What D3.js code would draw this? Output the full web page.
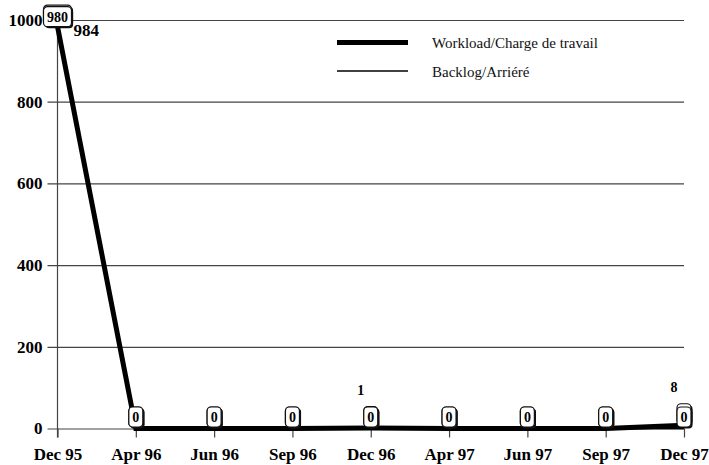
<!DOCTYPE html>
<html>
<head>
<meta charset="utf-8">
<script src="https://cdn.jsdelivr.net/npm/d3@7"></script>
<style>
  html, body { margin: 0; padding: 0; background: #fff; }
  svg { display: block; }
</style>
</head>
<body>
<svg id="chart" width="709" height="465"></svg>
<script>
// Quarterly reporting periods
const periods = ["Dec 95", "Apr 96", "Jun 96", "Sep 96", "Dec 96", "Apr 97", "Jun 97", "Sep 97", "Dec 97"];
// Workload / Charge de travail
const workload = [984, 0, 0, 0, 1, 0, 0, 0, 8];
// Backlog / Arriéré
const backlog = [980, 0, 0, 0, 0, 0, 0, 0, 0];
// Value axis ticks
const yTicks = [0, 200, 400, 600, 800, 1000];
const legendLabels = ["Workload/Charge de travail", "Backlog/Arriéré"];

const FONT = '"Liberation Serif"';
const svg = d3.select("#chart");
const plotL = 57.5, plotR = 684, plotT = 20, plotB = 428.5;

const x = d3.scalePoint().domain(periods).range([plotL, plotR]);
const y = d3.scaleLinear().domain([0, 1000]).range([plotB, plotT]);

function boldText(sel, size) {
  return sel.style("font-family", FONT).style("font-weight", "bold")
    .style("font-size", size + "px").style("fill", "#000");
}

// Horizontal gridlines with outward ticks
const yAxis = svg.append("g")
  .attr("transform", `translate(${plotL},0)`)
  .call(d3.axisLeft(y).tickValues(yTicks).tickSize(-(plotR - plotL)).tickSizeOuter(0).tickFormat(d3.format("d")));
yAxis.attr("font-family", null).attr("font-size", null);
yAxis.select(".domain").remove();
yAxis.selectAll(".tick line").attr("stroke", "#444").attr("stroke-width", 1.2).attr("x1", -10);
boldText(yAxis.selectAll(".tick text"), 17).attr("x", -15);

// Vertical value axis line
svg.append("line")
  .attr("x1", plotL).attr("x2", plotL).attr("y1", plotT).attr("y2", plotB + 9)
  .attr("stroke", "#444").attr("stroke-width", 1.2);

// Category axis
const xAxis = svg.append("g")
  .attr("transform", `translate(0,${plotB})`)
  .call(d3.axisBottom(x).tickSize(9).tickSizeOuter(0).tickPadding(10));
xAxis.attr("font-family", null).attr("font-size", null);
xAxis.select(".domain").remove();
xAxis.selectAll(".tick line").attr("stroke", "#444").attr("stroke-width", 1.2);
boldText(xAxis.selectAll(".tick text"), 17);

const line = d3.line().x((d, i) => x(periods[i])).y(d => y(d));

// Backlog series (thin) and workload series (thick)
svg.append("path").datum(backlog).attr("d", line)
  .attr("fill", "none").attr("stroke", "#000").attr("stroke-width", 1.6);
svg.append("path").datum(workload).attr("d", line)
  .attr("fill", "none").attr("stroke", "#000").attr("stroke-width", 5);

// Rounded callout box sitting on top of a data point
function callout(g, cx, cy, label, w) {
  const h = 20, bx = cx - w / 2, by = cy - h - 1.5;
  g.append("rect").attr("x", bx + 1.6).attr("y", by + 1.6).attr("width", w).attr("height", h)
    .attr("rx", 4).attr("fill", "#111");
  g.append("rect").attr("x", bx).attr("y", by).attr("width", w).attr("height", h)
    .attr("rx", 4).attr("fill", "#fff").attr("stroke", "#111").attr("stroke-width", 1.2);
  if (label !== null) {
    boldText(g.append("text"), 14).attr("x", cx).attr("y", by + h / 2 + 5)
      .attr("text-anchor", "middle").text(label);
  }
}

const boxW = v => String(v).length * 7 + 7;

// Workload callouts sit behind, their values shown as plain labels
const wBoxes = svg.append("g");
workload.forEach((v, i) => callout(wBoxes, x(periods[i]), y(v), null, boxW(backlog[i])));

const bBoxes = svg.append("g");
backlog.forEach((v, i) => callout(bBoxes, x(periods[i]), y(v), v, boxW(v)));

// Workload value labels (non-zero values only)
const wLabels = svg.append("g");
workload.forEach((v, i) => {
  if (v === 0) return;
  const cx = x(periods[i]), cy = y(v);
  if (i === 0) {
    boldText(wLabels.append("text"), 17).attr("x", cx + 16).attr("y", cy + 9).text(v);
  } else {
    boldText(wLabels.append("text"), 14).attr("x", cx - 10).attr("y", cy - 33)
      .attr("text-anchor", "middle").text(v);
  }
});

// Legend
const legend = svg.append("g");
const lw = [5, 1.6];
legendLabels.forEach((t, i) => {
  const ly = 42.5 + i * 28.5;
  legend.append("line").attr("x1", 337).attr("x2", 408).attr("y1", ly).attr("y2", ly)
    .attr("stroke", "#000").attr("stroke-width", lw[i]);
  legend.append("text").attr("x", 432).attr("y", ly + 5.5)
    .style("font-family", FONT).style("font-size", "15px").style("fill", "#111").text(t);
});
</script>
</body>
</html>
